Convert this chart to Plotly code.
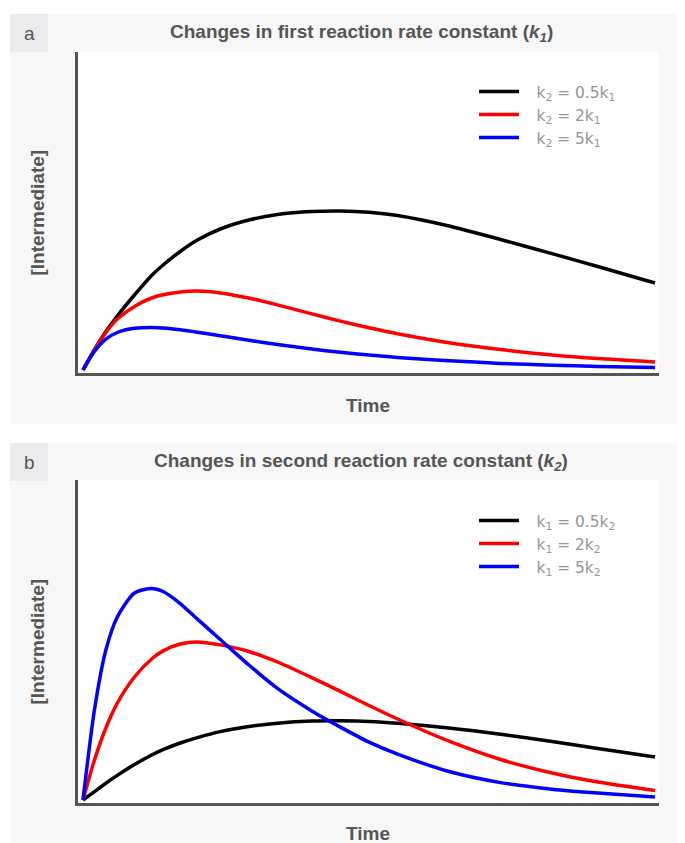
import plotly.graph_objects as go

# page offset (browser default body margin)
OFF = 8
W, H = 685 - OFF, 843 - OFF

# ---- data ----
time = [0, 0.2, 0.4, 0.6, 0.9, 1.2, 1.4, 1.7, 2.0, 2.4, 2.9, 3.4, 4.0, 4.5, 5.0, 5.5, 6.4, 7.3, 8.2, 9.0, 10.0]

# panel a: changes in k1
a_black = [0, 0.068, 0.128, 0.18, 0.25, 0.315, 0.35, 0.395, 0.433, 0.47, 0.50, 0.518, 0.528, 0.53, 0.526, 0.515, 0.48, 0.435, 0.388, 0.345, 0.29]
a_red = [0, 0.067, 0.125, 0.17, 0.212, 0.24, 0.251, 0.26, 0.263, 0.257, 0.24, 0.217, 0.187, 0.163, 0.141, 0.121, 0.091, 0.068, 0.05, 0.038, 0.027]
a_blue = [0, 0.062, 0.103, 0.125, 0.139, 0.142, 0.14, 0.134, 0.126, 0.114, 0.099, 0.085, 0.07, 0.059, 0.05, 0.042, 0.031, 0.022, 0.016, 0.012, 0.008]

# panel b: changes in k2
b_black = [0, 0.028, 0.056, 0.082, 0.118, 0.15, 0.168, 0.19, 0.208, 0.228, 0.245, 0.256, 0.263, 0.264, 0.262, 0.256, 0.24, 0.219, 0.195, 0.172, 0.143]
b_red = [0, 0.133, 0.24, 0.323, 0.41, 0.47, 0.497, 0.52, 0.527, 0.517, 0.495, 0.46, 0.408, 0.362, 0.315, 0.27, 0.196, 0.135, 0.09, 0.06, 0.032]
b_blue = [0, 0.30, 0.50, 0.61, 0.69, 0.705, 0.695, 0.655, 0.603, 0.535, 0.45, 0.372, 0.297, 0.243, 0.193, 0.153, 0.095, 0.058, 0.036, 0.023, 0.01]

a_labels = ["k<sub>2</sub> = 0.5k<sub>1</sub>", "k<sub>2</sub> = 2k<sub>1</sub>", "k<sub>2</sub> = 5k<sub>1</sub>"]
b_labels = ["k<sub>1</sub> = 0.5k<sub>2</sub>", "k<sub>1</sub> = 2k<sub>2</sub>", "k<sub>1</sub> = 5k<sub>2</sub>"]
colors = ["#000000", "#ff0000", "#0000ff"]

panel_titles = ["Changes in first reaction rate constant (<i>k<sub>1</sub></i>)",
                "Changes in second reaction rate constant (<i>k<sub>2</sub></i>)"]
panel_letters = ["a", "b"]
x_title = "Time"
y_title = "[Intermediate]"


def px(x):
    return (x - OFF) / W


def py(y):
    return 1 - (y - OFF) / H


GAP = "&#8194;&nbsp;"

fig = go.Figure()

for vals, lab, col in zip([a_black, a_red, a_blue], a_labels, colors):
    fig.add_trace(go.Scatter(x=time, y=vals, mode="lines", name=GAP + lab,
                             line=dict(color=col, width=3.5, shape="spline", smoothing=0.7),
                             xaxis="x", yaxis="y", legend="legend"))
for vals, lab, col in zip([b_black, b_red, b_blue], b_labels, colors):
    fig.add_trace(go.Scatter(x=time, y=vals, mode="lines", name=GAP + lab,
                             line=dict(color=col, width=3.5, shape="spline", smoothing=0.7),
                             xaxis="x2", yaxis="y2", legend="legend2"))

axis_common = dict(showgrid=False, zeroline=False, showticklabels=False, ticks="",
                   showline=True, linecolor="#555555", linewidth=3, fixedrange=True)

legend_font = dict(family="DejaVu Sans", size=15.4, color="#959595")
xdom = [px(78), px(659)]
fig.update_layout(
    width=W, height=H,
    margin=dict(l=0, r=0, t=0, b=0),
    paper_bgcolor="#ffffff",
    plot_bgcolor="rgba(0,0,0,0)",
    xaxis=dict(domain=xdom, range=[-0.087, 10.07], anchor="y", **axis_common),
    yaxis=dict(domain=[py(373), py(52)], range=[-0.01, 1.06], anchor="x", **axis_common),
    xaxis2=dict(domain=xdom, range=[-0.087, 10.07], anchor="y2", **axis_common),
    yaxis2=dict(domain=[py(803), py(480)], range=[-0.01, 1.0667], anchor="x2", **axis_common),
    legend=dict(x=px(474), y=py(75), xanchor="left", yanchor="top",
                bgcolor="rgba(0,0,0,0)", itemwidth=40, font=legend_font),
    legend2=dict(x=px(474), y=py(504), xanchor="left", yanchor="top",
                 bgcolor="rgba(0,0,0,0)", itemwidth=40, font=legend_font),
    showlegend=True,
)

shapes = []
annotations = []
panels = [
    dict(top=14, bottom=424, plot_top=52, plot_bottom=373, xt=406),
    dict(top=443, bottom=843, plot_top=480, plot_bottom=803, xt=833),
]
bold_font = dict(family="Liberation Sans", size=19, color="#555555")
for k, p in enumerate(panels):
    shapes.append(dict(type="rect", xref="paper", yref="paper", layer="below",
                       x0=px(10), x1=1, y0=py(p["bottom"]), y1=py(p["top"]),
                       fillcolor="#f7f7f7", line=dict(width=0)))
    shapes.append(dict(type="rect", xref="paper", yref="paper", layer="below",
                       x0=px(10), x1=px(48), y0=py(p["top"] + 38), y1=py(p["top"]),
                       fillcolor="#ebebed", line=dict(width=0)))
    shapes.append(dict(type="rect", xref="paper", yref="paper", layer="below",
                       x0=px(78), x1=px(659), y0=py(p["plot_bottom"]), y1=py(p["plot_top"]),
                       fillcolor="#ffffff", line=dict(width=0)))
    annotations.append(dict(text=panel_letters[k], xref="paper", yref="paper",
                            x=px(29), y=py(p["top"] + 19), showarrow=False,
                            xanchor="center", yanchor="middle",
                            font=dict(family="Liberation Sans", size=19, color="#555555")))
    annotations.append(dict(text="<b>" + panel_titles[k] + "</b>", xref="paper", yref="paper",
                            x=px(361), y=py(p["top"] + 19), showarrow=False,
                            xanchor="center", yanchor="middle", font=bold_font))
    annotations.append(dict(text="<b>" + x_title + "</b>", xref="paper", yref="paper",
                            x=px(368), y=py(p["xt"]), showarrow=False,
                            xanchor="center", yanchor="middle", font=bold_font))
    annotations.append(dict(text="<b>" + y_title + "</b>", xref="paper", yref="paper",
                            x=px(37), y=py((p["plot_top"] + p["plot_bottom"]) / 2), showarrow=False,
                            xanchor="center", yanchor="middle", textangle=-90, font=bold_font))

fig.update_layout(shapes=shapes, annotations=annotations)
fig.write_html("out.html")
